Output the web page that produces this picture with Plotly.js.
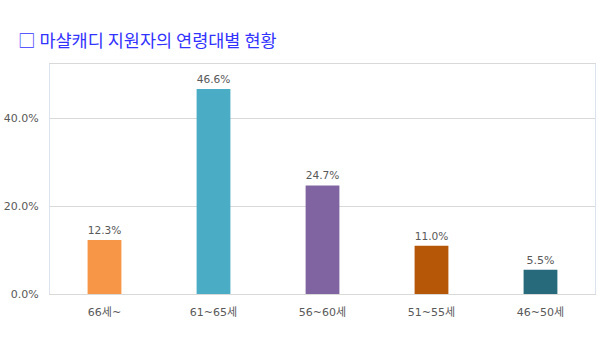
<!DOCTYPE html>
<html><head><meta charset="utf-8">
<script src="https://cdn.plot.ly/plotly-3.0.1.min.js"></script>
<style>body{margin:0;background:#fff}#c{width:600px;height:352px}</style>
</head><body><div id="c"></div>
<script>
const categories = ['66세~', '61~65세', '56~60세', '51~55세', '46~50세'];
const values = [12.3, 46.6, 24.7, 11.0, 5.5];
const labels = ['12.3%', '46.6%', '24.7%', '11.0%', '5.5%'];
const colors = ['#F79646', '#4BACC6', '#8064A2', '#B65708', '#276A7C'];
const yTicks = [0, 20, 40];
const yTickText = ['0.0%', '20.0%', '40.0%'];

const font = "'DejaVu Sans', 'Noto Sans CJK KR', sans-serif";
const tfont = "'Noto Sans CJK KR', sans-serif";
Plotly.newPlot('c', [{
  type: 'bar', x: categories, y: values,
  marker: {color: colors},
  text: labels, textposition: 'outside', cliponaxis: false,
  textfont: {family: font, size: 11, color: '#595959'},
  hoverinfo: 'none'
}], {
  width: 600, height: 352,
  margin: {l: 50, r: 5, t: 64, b: 58},
  paper_bgcolor: '#fff', plot_bgcolor: '#fff',
  bargap: 0.69,
  showlegend: false,
  title: {text: '□ 마샬캐디 지원자의 연령대별 현황', x: 0.03, xanchor: 'left', y: 0.883, yanchor: 'middle',
          font: {family: tfont, size: 17.5, color: '#3333ff'}},
  xaxis: {showgrid: false, showline: true, linecolor: '#d9d9d9', mirror: true, ticks: '',
          ticklabelstandoff: 8,
          tickfont: {family: font, size: 11, color: '#595959'}, fixedrange: true},
  yaxis: {range: [0, 52.3], tickvals: yTicks, ticktext: yTickText, showgrid: true, gridcolor: '#d9d9d9',
          showline: true, linecolor: '#dce3ec', mirror: true, zeroline: false, ticks: '',
          ticklabelstandoff: 8,
          tickfont: {family: font, size: 11, color: '#595959'}, fixedrange: true}
}, {displayModeBar: false, staticPlot: true});
</script></body></html>
